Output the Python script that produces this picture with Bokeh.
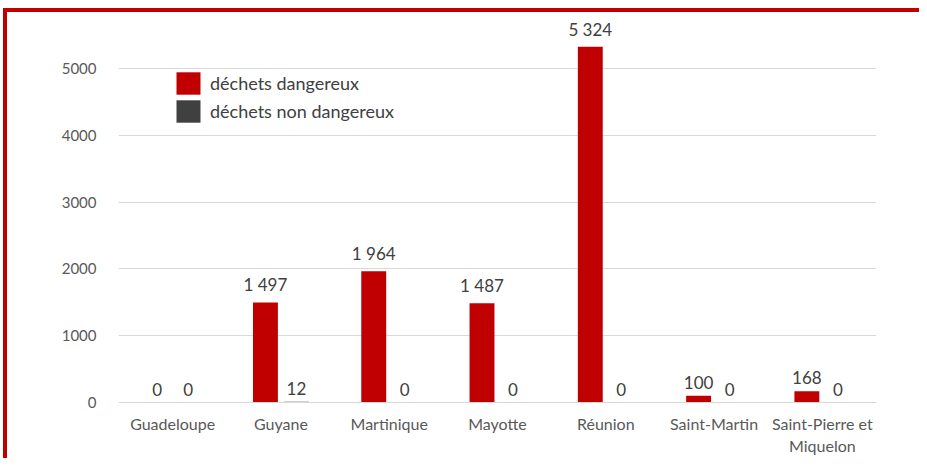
from bokeh.plotting import figure
from bokeh.models import ColumnDataSource, FixedTicker, Legend, LegendItem, Range1d
from bokeh.transform import dodge
from bokeh.core.properties import value
from bokeh.embed import file_html
from bokeh.resources import INLINE

categories = ["Guadeloupe", "Guyane", "Martinique", "Mayotte", "Réunion",
              "Saint-Martin", "Saint-Pierre et\nMiquelon"]
dangereux = [0, 1497, 1964, 1487, 5324, 100, 168]
non_dangereux = [0, 12, 0, 0, 0, 0, 0]
y_ticks = [0, 1000, 2000, 3000, 4000, 5000]
series_names = ["déchets dangereux", "déchets non dangereux"]

RED = "#C00000"
DARK = "#404040"
FONT = "Lato"


def fmt(v):
    return f"{v:,}".replace(",", " ")


src = ColumnDataSource(dict(
    cat=categories,
    d=dangereux,
    n=non_dangereux,
    dl=[fmt(v) for v in dangereux],
    nl=[fmt(v) for v in non_dangereux],
))

p = figure(x_range=categories, y_range=Range1d(0, 5808), width=916, height=450,
           output_backend="svg", toolbar_location=None,
           min_border_left=111, min_border_right=47, min_border_top=2,
           min_border_bottom=60)
p.styles = {"border-left": f"4px solid {RED}", "border-top": f"4px solid {RED}",
            "margin-left": "3px", "margin-top": "8px"}
p.outline_line_color = None
p.x_range.range_padding = 0

off = 0.143
w = 0.23
r1 = p.vbar(x=dodge("cat", -off, range=p.x_range), top="d", width=w, source=src,
            fill_color=RED, line_color=None)
r2 = p.vbar(x=dodge("cat", off, range=p.x_range), top="n", width=w, source=src,
            fill_color=DARK, line_color=None)

p.text(x=dodge("cat", -off, range=p.x_range), y="d", text="dl", source=src,
       text_align="center", text_baseline="bottom", y_offset=-7,
       text_font=value(FONT), text_font_size="17px", text_color="#404040")
p.text(x=dodge("cat", off, range=p.x_range), y="n", text="nl", source=src,
       text_align="center", text_baseline="bottom", y_offset=-7,
       text_font=value(FONT), text_font_size="17px", text_color="#404040")

p.xgrid.grid_line_color = None
p.ygrid.grid_line_color = "#d9d9d9"
p.ygrid.ticker = FixedTicker(ticks=y_ticks)

p.yaxis.ticker = FixedTicker(ticks=y_ticks)
p.yaxis.axis_line_color = None
p.yaxis.major_tick_line_color = None
p.yaxis.minor_tick_line_color = None
p.yaxis.major_label_standoff = 16
p.yaxis.major_label_text_font = FONT
p.yaxis.major_label_text_font_size = "15px"
p.yaxis.major_label_text_color = "#595959"

p.xaxis.axis_line_color = "#d9d9d9"
p.xaxis.major_tick_line_color = None
p.xaxis.minor_tick_line_color = None
p.xaxis.major_label_standoff = 5
p.xaxis.major_label_text_font = FONT
p.xaxis.major_label_text_font_size = "16px"
p.xaxis.major_label_text_color = "#595959"

legend = Legend(items=[LegendItem(label=series_names[0], renderers=[r1]),
                       LegendItem(label=series_names[1], renderers=[r2])],
                location="top_left", margin=55, padding=2, spacing=0,
                glyph_width=30, glyph_height=28, label_height=28,
                label_standoff=7, border_line_color=None,
                background_fill_alpha=0,
                label_text_font=FONT, label_text_font_size="18px",
                label_text_color="#404040")
p.add_layout(legend)

open("out.html", "w").write(file_html(p, INLINE))
